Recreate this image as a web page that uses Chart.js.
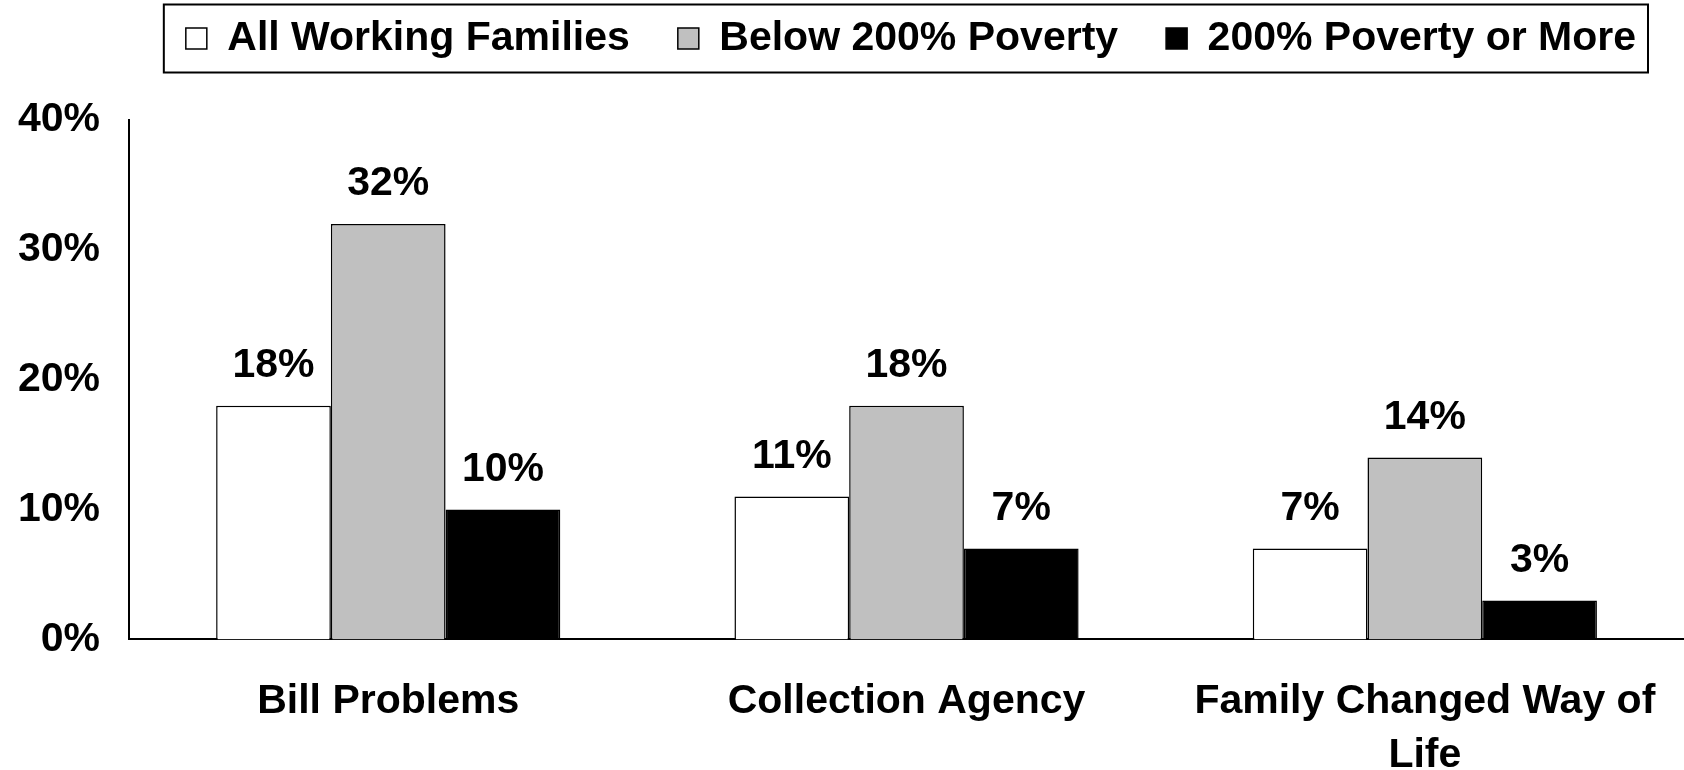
<!DOCTYPE html>
<html>
<head>
<meta charset="utf-8">
<script src="https://cdn.jsdelivr.net/npm/chart.js@4.4.0/dist/chart.umd.min.js"></script>
<style>
    html, body { margin: 0; padding: 0; background: #ffffff; }
    #contenedor { width: 1684px; height: 770px; position: relative; }
</style>
</head>
<body>
<div id="contenedor"><canvas id="graficoFamilias"></canvas></div>
<script>
const categorias = ["Bill Problems", "Collection Agency", ["Family Changed Way of", "Life"]];
const todasFamilias = [18, 11, 7];
const bajo200 = [32, 18, 14];
const sobre200 = [10, 7, 3];
const ticksY = [0, 10, 20, 30, 40];

const fuente = "'Liberation Sans', Arial, sans-serif";

// Marco negro alrededor de la leyenda
const marcoLeyenda = {
    id: "marcoLeyenda",
    beforeLayout(chart) {
        const leyenda = chart.legend;
        if (!leyenda || leyenda._altoFijo) return;
        const fitOriginal = leyenda.fit;
        leyenda.fit = function () {
            fitOriginal.call(this);
            this.height = 150;
        };
        leyenda._altoFijo = true;
    },
    afterDraw(chart) {
        const cajas = chart.legend && chart.legend.legendHitBoxes;
        if (!cajas || !cajas.length) return;
        const primera = cajas[0];
        const ultima = cajas[cajas.length - 1];
        const centroY = primera.top + primera.height / 2;
        const ctx = chart.ctx;
        ctx.save();
        ctx.strokeStyle = "#000000";
        ctx.lineWidth = 2;
        ctx.strokeRect(primera.left - 22, centroY - 34, ultima.left + ultima.width + 12 - (primera.left - 22), 68);
        ctx.restore();
    }
};

// Porcentajes encima de cada barra
const etiquetasValor = {
    id: "etiquetasValor",
    afterDatasetsDraw(chart) {
        const ctx = chart.ctx;
        ctx.save();
        ctx.font = "bold 41px " + fuente;
        ctx.fillStyle = "#000000";
        ctx.textAlign = "center";
        ctx.textBaseline = "middle";
        chart.data.datasets.forEach((serie, i) => {
            chart.getDatasetMeta(i).data.forEach((barra, j) => {
                ctx.fillText(serie.data[j] + "%", barra.x, barra.y - 40);
            });
        });
        ctx.restore();
    }
};

new Chart(document.getElementById("graficoFamilias"), {
    type: "bar",
    data: {
        labels: categorias,
        datasets: [
            {
                label: "All Working Families",
                data: todasFamilias,
                backgroundColor: "#ffffff",
                borderColor: "#000000",
                borderWidth: 1.5
            },
            {
                label: "Below 200% Poverty",
                data: bajo200,
                backgroundColor: "#c0c0c0",
                borderColor: "#000000",
                borderWidth: 1.5
            },
            {
                label: "200% Poverty or More",
                data: sobre200,
                backgroundColor: "#000000",
                borderColor: "#000000",
                borderWidth: 1.5
            }
        ]
    },
    options: {
        responsive: true,
        maintainAspectRatio: false,
        animation: false,
        layout: {
            padding: { top: -30, left: -11, right: 0, bottom: -48 }
        },
        datasets: {
            bar: {
                categoryPercentage: 0.664,
                barPercentage: 1.0
            }
        },
        plugins: {
            tooltip: { enabled: false },
            legend: {
                position: "top",
                align: "end",
                labels: {
                    boxWidth: 21,
                    boxHeight: 21,
                    padding: 48,
                    color: "#000000",
                    font: { family: fuente, size: 41, weight: "bold" }
                }
            }
        },
        scales: {
            x: {
                grid: { display: false, drawTicks: false },
                border: { display: true, color: "#000000", width: 2 },
                // el eje llega hasta el borde derecho
                afterFit: escala => { escala.paddingRight = 0; },
                ticks: {
                    padding: 36,
                    color: "#000000",
                    maxRotation: 0,
                    font: { family: fuente, size: 41, weight: "bold", lineHeight: 1.3 }
                }
            },
            y: {
                min: ticksY[0],
                max: ticksY[ticksY.length - 1],
                grid: { display: false, drawTicks: false },
                border: { display: true, color: "#000000", width: 2 },
                ticks: {
                    stepSize: ticksY[1] - ticksY[0],
                    padding: 29,
                    color: "#000000",
                    font: { family: fuente, size: 41, weight: "bold" },
                    callback: valor => valor + "%"
                }
            }
        }
    },
    plugins: [marcoLeyenda, etiquetasValor]
});
</script>
</body>
</html>
